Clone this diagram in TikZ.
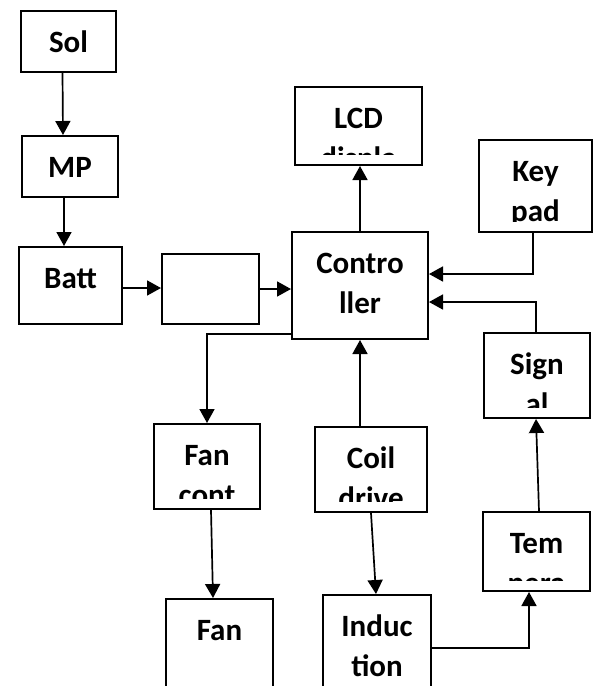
\documentclass[tikz,border=0pt]{standalone}
\usepackage{fontspec}
\setmainfont{Carlito}
\usetikzlibrary{arrows.meta,calc}
\newcommand{\lblfont}{\fontsize{31}{39}\selectfont\bfseries}
\tikzset{
  blk/.style={draw,line width=2pt,inner sep=0pt,anchor=north west},
  lbl/.style 2 args={path picture={
      \clip ([yshift=11pt]path picture bounding box.south west)
        rectangle (path picture bounding box.north east);
      \node[anchor=base,font=\lblfont,inner sep=0pt]
        at ([yshift=-41pt]path picture bounding box.north) {#1};
      \node[anchor=base,font=\lblfont,inner sep=0pt]
        at ([yshift=-81pt]path picture bounding box.north) {#2};}},
  flow/.style={-{Triangle[length=14pt,width=15pt]},line width=1.7pt},
}
\begin{document}
\begin{tikzpicture}[x=1pt,y=-1pt]
  \useasboundingbox (0,0) rectangle (595,686);
  \clip (0,0) rectangle (595,686);
  \node[blk,minimum width=95pt,minimum height=61pt,lbl={Sol}{}] (sol) at (20,10) {};
  \node[blk,minimum width=96pt,minimum height=61pt,lbl={MP}{}] (mp) at (21,135) {};
  \node[blk,minimum width=103pt,minimum height=77pt,lbl={Batt}{}] (batt) at (18,246) {};
  \node[blk,minimum width=97pt,minimum height=70pt] (conv) at (161,253) {};
  \node[blk,minimum width=127pt,minimum height=78pt,lbl={LCD}{displa}] (lcd) at (294,86) {};
  \node[blk,minimum width=136pt,minimum height=107pt,lbl={Contro}{ller}] (ctrl) at (291,231) {};
  \node[blk,minimum width=113pt,minimum height=92pt,lbl={Key}{pad}] (key) at (478,139) {};
  \node[blk,minimum width=106pt,minimum height=85pt,lbl={Sign}{al}] (sig) at (483,332) {};
  \node[blk,minimum width=106pt,minimum height=85pt,lbl={Fan}{cont}] (fanc) at (153,423) {};
  \node[blk,minimum width=112pt,minimum height=85pt,lbl={Coil}{drive}] (coil) at (314,426) {};
  \node[blk,minimum width=107pt,minimum height=100pt,lbl={Fan}{}] (fan) at (165,598) {};
  \node[blk,minimum width=108pt,minimum height=100pt,lbl={Induc}{tion}] (ind) at (322,594) {};
  \node[blk,minimum width=107pt,minimum height=79pt,lbl={Tem}{pera}] (temp) at (482,511) {};

  \draw[flow] ([xshift=-6pt]sol.south) -- ([xshift=-7pt]mp.north);
  \draw[flow] ([xshift=-6pt]mp.south) -- ([xshift=-6.5pt]batt.north);
  \draw[flow] ([yshift=-2.5pt]batt.east) -- ([yshift=-2.5pt]batt.east -| conv.west);
  \draw[flow] (conv.east) -- (conv.east -| ctrl.west);
  \draw[flow] (ctrl.north) -- (ctrl.north |- lcd.south);
  \draw[flow] ([xshift=-2.5pt]key.south) |- ([yshift=11.5pt]ctrl.east);
  \draw[flow] ([xshift=-1pt]sig.north) |- ([yshift=-16.5pt]ctrl.east);
  \draw[flow] ([yshift=6pt]ctrl.south west) -| (fanc.north);
  \draw[flow] (ctrl.south |- coil.north) -- (ctrl.south);
  \draw[flow] ([xshift=4pt]fanc.south) -- ([xshift=-6.5pt]fan.north);
  \draw[flow] (coil.south) -- ([xshift=-1pt]ind.north);
  \draw[flow] ([yshift=-54pt]ind.north east) -| ([xshift=-7.5pt]temp.south);
  \draw[flow] ([xshift=2.5pt]temp.north) -- ([xshift=-1pt]sig.south);
\end{tikzpicture}
\end{document}
